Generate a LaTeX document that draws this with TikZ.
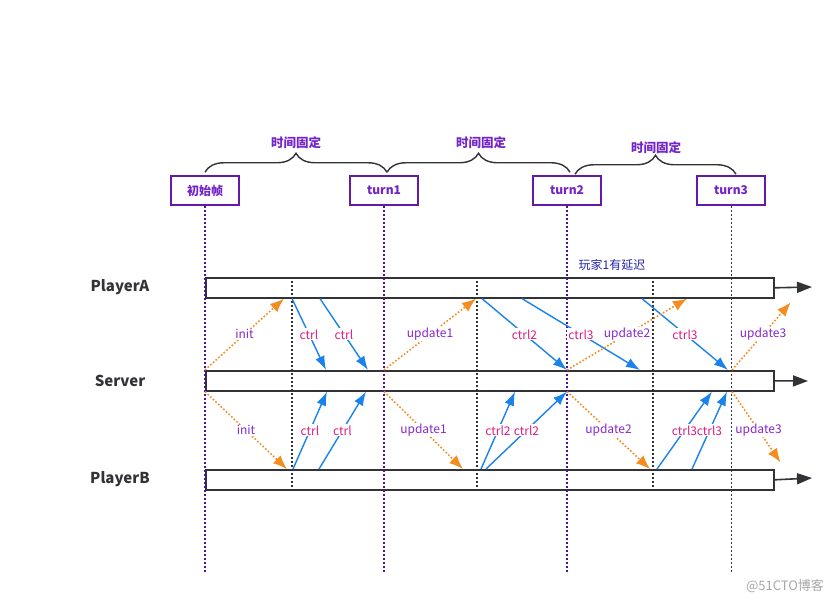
\documentclass[tikz,border=0pt]{standalone}
\usepackage{fontspec}
\setmainfont{Noto Sans CJK SC}
\usetikzlibrary{arrows.meta,decorations.pathreplacing}

\definecolor{turnpurple}{RGB}{100,25,170}
\definecolor{turntext}{RGB}{115,35,200}
\definecolor{linepurple}{RGB}{70,20,150}
\definecolor{bardark}{RGB}{50,50,55}
\definecolor{ctrlblue}{RGB}{25,130,235}
\definecolor{ctrlpink}{RGB}{215,30,130}
\definecolor{updorange}{RGB}{245,140,30}
\definecolor{updpurple}{RGB}{135,40,205}
\definecolor{delayblue}{RGB}{35,35,170}

\begin{document}
\begin{tikzpicture}[
    x=1pt, y=-1pt,
    every node/.style={font=\fontsize{12}{14}\selectfont},
    turnbox/.style={
        draw=turnpurple, line width=1.5pt,
        text=turntext, font=\fontsize{12}{14}\selectfont\bfseries,
        minimum width=68pt, minimum height=29pt,
        inner sep=0pt
    },
    bar/.style={
        draw=bardark, line width=1.6pt,
        minimum width=568pt, minimum height=20pt,
        inner sep=0pt, anchor=north west
    },
    role/.style={font=\fontsize{15}{18}\selectfont\bfseries, text=bardark},
    fixlabel/.style={font=\fontsize{12.5}{14}\selectfont\bfseries, text=turntext},
    fixbrace/.style={
        draw=bardark, line width=1.4pt,
        decorate, decoration={brace, amplitude=19pt}
    },
    turnline/.style={draw=linepurple, line width=2pt, dotted},
    tickline/.style={draw=bardark, line width=2pt, dotted},
    flow/.style={draw=bardark, line width=1.6pt, -{Triangle[length=15pt,width=11pt]}},
    ctrlarrow/.style={draw=ctrlblue, line width=1.4pt, -{Latex[length=14pt,width=10pt]}},
    updarrow/.style={draw=updorange, line width=1.6pt, dotted, -{Latex[length=14pt,width=11pt]}},
    ctrllabel/.style={fill=white, inner sep=1pt, text=ctrlpink},
    updlabel/.style={fill=white, inner sep=1pt, text=updpurple}
]
\useasboundingbox (0,0) rectangle (840,606);

% turns
\node[turnbox] (t0) at (205,190.5) {初始帧};
\node[turnbox] (t1) at (384,190.5) {turn1};
\node[turnbox] (t2) at (567,190.5) {turn2};
\node[turnbox] (t3) at (731,190.5) {turn3};

\draw[fixbrace] ([yshift=3pt]t0.north) -- ([xshift=3pt,yshift=3pt]t1.north);
\draw[fixbrace] ([xshift=3pt,yshift=3pt]t1.north) -- ([xshift=3pt,yshift=3pt]t2.north);
\draw[fixbrace] ([xshift=8pt,yshift=1pt]t2.north) -- ([xshift=5pt,yshift=1pt]t3.north);
\node[fixlabel] (f1) at (296,143) {时间固定};
\node[fixlabel] (f2) at (481,143) {时间固定};
\node[fixlabel] (f3) at (656,148) {时间固定};

% timelines
\node[bar] (A) at (205,277) {};
\node[bar] (S) at (205,370) {};
\node[bar] (B) at (205,469) {};
\node[role] (lA) at (120,287) {PlayerA};
\node[role] (lS) at (120,381) {Server};
\node[role] (lB) at (120,479) {PlayerB};
\node[text=delayblue] (lag) at (612,265) {玩家1有延迟};

\coordinate (Aend) at (812,287);
\coordinate (Send) at (808,381);
\coordinate (Bend) at (812,478);
\draw[flow] (A.east) -- (Aend);
\draw[flow] (S.east) -- (Send);
\draw[flow] (B.east) -- (Bend);

\foreach \t in {t0,t1,t2}
    \draw[turnline] (\t.south) -- (\t.south |- 0,572);
\draw[turnline, draw=bardark, line width=1pt] (t3.south) -- (t3.south |- 0,572);

\foreach \x in {292,477,653}
    \draw[tickline] (A.north -| \x,0) -- (B.south -| \x,0);

% ctrl
\foreach \xa/\xb/\txt in {292/326/ctrl, 320/368/ctrl, 482/567/ctrl2, 522/640/ctrl3, 642/728/ctrl3}
    \draw[ctrlarrow] (A.south -| \xa,0) -- node[ctrllabel]{\txt} (S.north -| \xb,0);
\foreach \xa/\xb/\txt in {293/327/ctrl, 319/366/ctrl, 481/515/ctrl2, 486/567/ctrl2, 657/712/ctrl3, 692/727/ctrl3}
    \draw[ctrlarrow] (B.north -| \xa,0) -- node[ctrllabel]{\txt} (S.south -| \xb,0);

% update
\foreach \xa/\xb/\txt in {205/284/init, 384/476/update1, 567/687/update2}
    \draw[updarrow] (S.north -| \xa,0) -- node[updlabel]{\txt} (A.south -| \xb,0);
\foreach \xa/\xb/\txt in {205/287/init, 384/463/update1, 567/650/update2}
    \draw[updarrow] (S.south -| \xa,0) -- node[updlabel]{\txt} (B.north -| \xb,0);
\draw[updarrow, shorten >=5pt] (S.north -| 732,0) -- node[updlabel]{update3} (A.south -| 794,0);
\draw[updarrow, shorten >=8pt] (S.south -| 732,0) -- node[updlabel]{update3} (B.north -| 785,0);

\node[text=black!35, font=\fontsize{13}{15}\selectfont] (wm) at (785,586) {@51CTO博客};
\end{tikzpicture}
\end{document}
